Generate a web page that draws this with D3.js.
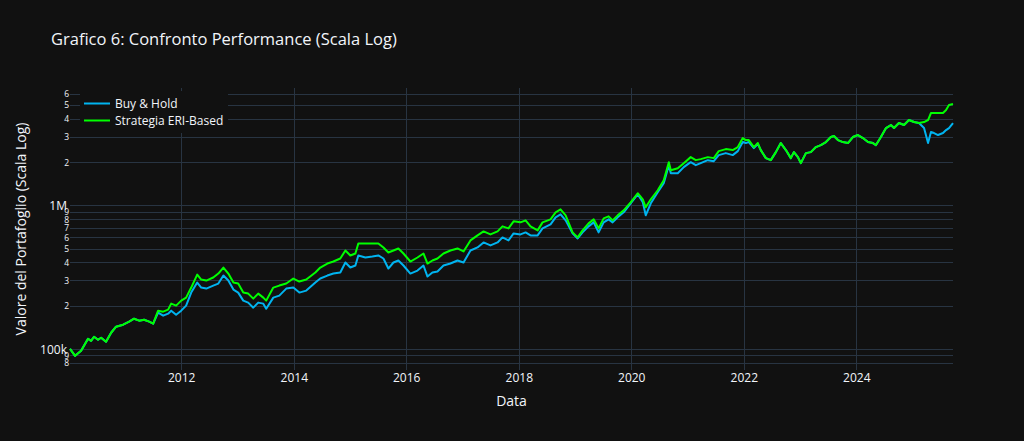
<!DOCTYPE html>
<html>
<head>
<meta charset="utf-8">
<script src="https://cdn.jsdelivr.net/npm/d3@7"></script>
<style>
  body { margin: 0; background: #111111; }
  svg { display: block; font-family: "Open Sans", verdana, arial, sans-serif; }
</style>
</head>
<body>
<div id="chart"></div>
<script>
// values (portfolio value, log scale)
var dates = [
  "2010-01-09","2010-02-11","2010-03-22","2010-05-06","2010-05-26","2010-06-14","2010-07-10","2010-07-30","2010-08-31","2010-10-03",
  "2010-11-04","2010-12-20","2011-01-28","2011-03-01","2011-04-03","2011-05-05","2011-06-07","2011-07-03","2011-08-04","2011-09-06",
  "2011-10-08","2011-10-28","2011-11-29","2012-01-01","2012-02-02","2012-03-06","2012-04-14","2012-05-10","2012-06-12","2012-07-27",
  "2012-08-29","2012-10-01","2012-11-02","2012-12-05","2013-01-05","2013-02-07","2013-03-11","2013-04-13","2013-05-15","2013-06-17",
  "2013-07-06","2013-08-21","2013-09-29","2013-11-13","2013-12-29","2014-02-06","2014-03-23","2014-05-21","2014-06-22","2014-08-07",
  "2014-09-15","2014-10-30","2014-12-02","2015-01-03","2015-02-05","2015-02-24","2015-04-11","2015-05-26","2015-07-04","2015-08-06",
  "2015-09-07","2015-10-10","2015-11-11","2015-12-14","2016-01-28","2016-03-14","2016-04-22","2016-05-18","2016-06-19","2016-07-22",
  "2016-08-30","2016-10-14","2016-11-29","2017-01-07","2017-02-21","2017-04-08","2017-05-17","2017-07-01","2017-08-16","2017-09-17",
  "2017-10-26","2017-11-28","2018-01-12","2018-02-14","2018-03-18","2018-05-03","2018-06-04","2018-07-26","2018-08-28","2018-09-29",
  "2018-11-01","2018-12-16","2019-01-18","2019-02-19","2019-03-30","2019-05-02","2019-06-03","2019-07-06","2019-08-07","2019-09-02",
  "2019-10-05","2019-11-13","2019-12-28","2020-02-12","2020-03-16","2020-04-04","2020-05-07","2020-06-21","2020-07-30","2020-09-01",
  "2020-09-14","2020-10-29","2020-12-07","2021-01-21","2021-02-23","2021-03-27","2021-05-12","2021-06-20","2021-07-22","2021-09-06",
  "2021-10-21","2021-11-23","2021-12-25","2022-01-14","2022-02-02","2022-03-07","2022-04-02","2022-04-21","2022-05-24","2022-06-25",
  "2022-07-28","2022-08-29","2022-10-01","2022-11-02","2022-11-22","2022-12-18","2023-01-06","2023-02-08","2023-03-12","2023-04-14",
  "2023-05-16","2023-06-18","2023-07-20","2023-08-09","2023-09-04","2023-10-06","2023-11-08","2023-12-10","2024-01-12","2024-02-13",
  "2024-03-17","2024-04-18","2024-05-08","2024-06-09","2024-07-12","2024-08-13","2024-09-02","2024-10-04","2024-11-06","2024-12-08",
  "2025-01-10","2025-02-11","2025-03-16","2025-04-11","2025-04-30","2025-05-20","2025-06-15","2025-07-17","2025-08-06","2025-08-25",
  "2025-09-20"
];

var buyHold = [
  100000,89300,96800,117500,113700,121300,115600,119400,111900,129400,
  142500,147200,154500,162100,157000,159500,154500,149600,178600,170100,
  175700,184400,172900,184400,199900,246400,289500,267100,262800,275800,
  284900,323900,299000,258600,246400,216600,209800,193500,209800,206400,
  190400,227400,234800,262800,267100,246400,254500,289500,308800,323900,
  334500,339900,399300,368400,380500,447000,432800,439800,447000,425900,
  362500,399300,412400,380500,334500,351000,380500,318800,339900,345400,
  380500,392900,412400,399300,484500,508500,551100,525100,551100,597400,
  569200,637100,626900,647400,616900,616900,690500,736500,824300,865000,
  785500,637100,587800,647400,713100,760600,647400,760600,798200,760600,
  824300,893400,1032700,1193700,1049500,851200,1032700,1232800,1425000,1904400,
  1674100,1674100,1844000,1998600,1904400,1966700,2064100,2031100,2237200,2310500,
  2237200,2386100,2758400,2714300,2758400,2504300,2670900,2424900,2131800,2064100,
  2348000,2714300,2424900,2131800,2348000,2166300,1966700,2310500,2348000,2545000,
  2628300,2758400,2989700,3038300,2848800,2758400,2714300,2989700,3087600,2942000,
  2758400,2714300,2628300,2989700,3454100,3625200,3454100,3744000,3625200,3929300,
  3804700,3744000,3454100,2714300,3238700,3187800,3087600,3187800,3344700,3454100,
  3744000
];

var eriStrategy = [
  100000,89300,96800,117500,113700,121300,115600,119400,111900,129400,
  142500,147200,154500,162100,157000,159500,154500,149600,184400,181500,
  187400,206400,199900,216600,227400,267100,329100,303800,299000,313800,
  334500,368400,334500,289500,284900,246400,242500,223700,242500,227400,
  216600,267100,275800,284900,308800,294200,303800,339900,368400,392900,
  405800,425900,484500,447000,461600,542300,542300,542300,542300,508500,
  469100,484500,500400,461600,405800,432800,461600,392900,412400,425900,
  461600,484500,500400,476700,569200,616900,657900,626900,657900,713100,
  690500,772900,760600,785500,713100,668600,760600,798200,893400,937600,
  851200,647400,597400,668600,748400,798200,690500,811100,837700,785500,
  851200,922600,1049500,1213100,1101400,968300,1101400,1273200,1495600,1998600,
  1757000,1814500,1966700,2166300,2064100,2097600,2166300,2131800,2386100,2464300,
  2424900,2545000,2942000,2848800,2848800,2545000,2714300,2424900,2131800,2064100,
  2348000,2714300,2424900,2131800,2348000,2166300,1966700,2310500,2348000,2545000,
  2628300,2758400,2989700,3038300,2848800,2758400,2714300,2989700,3087600,2942000,
  2758400,2714300,2628300,2989700,3454100,3625200,3454100,3744000,3625200,3929300,
  3804700,3744000,3804700,3929300,4398300,4398300,4398300,4398300,4616100,5003500,
  5084700
];

var seriesNames = ["Buy & Hold", "Strategia ERI-Based"];
var seriesColors = ["#00b4f0", "#00ff00"];
var yearTicks = ["2012","2014","2016","2018","2020","2022","2024"];
var yDecadeTicks = [100000, 1000000];
var yDigitTicks = [80000, 90000, 200000, 300000, 400000, 500000, 600000, 700000, 800000, 900000,
                   2000000, 3000000, 4000000, 5000000, 6000000];
var yRange = [71170, 6568000];

var cfg = {
  w: 1024,
  h: 441,
  left: 70,
  right: 71,
  top: 88,
  bottom: 71,
  grid: "#283442",
  text: "#f2f5fa"
};

var pw = cfg.w - cfg.left - cfg.right;
var ph = cfg.h - cfg.top - cfg.bottom;

var parseDate = d3.timeParse("%Y-%m-%d");
var parsed = dates.map(parseDate);

var svg = d3.select("#chart")
    .append("svg")
    .attr("width", cfg.w)
    .attr("height", cfg.h)
    .style("background", "#111111");

var g = svg.append("g")
    .attr("transform", "translate(" + cfg.left + "," + cfg.top + ")");

var x = d3.scaleTime().domain(d3.extent(parsed)).range([0, pw]);
var y = d3.scaleLog().domain(yRange).range([ph, 0]);

// grid lines
var allY = yDigitTicks.concat(yDecadeTicks);
g.append("g").attr("class", "ygrid")
  .selectAll("line")
  .data(allY)
  .enter().append("line")
    .attr("x1", 0).attr("x2", pw)
    .attr("y1", function(d) { return Math.round(y(d)) + 0.5; })
    .attr("y2", function(d) { return Math.round(y(d)) + 0.5; })
    .attr("stroke", cfg.grid).attr("stroke-width", 1);

var yearDates = yearTicks.map(function(t) { return parseDate(t + "-01-01"); });
g.append("g").attr("class", "xgrid")
  .selectAll("line")
  .data(yearDates)
  .enter().append("line")
    .attr("y1", 0).attr("y2", ph)
    .attr("x1", function(d) { return Math.round(x(d)) + 0.5; })
    .attr("x2", function(d) { return Math.round(x(d)) + 0.5; })
    .attr("stroke", cfg.grid).attr("stroke-width", 1);

// x axis
var xAxis = d3.axisBottom(x)
    .tickValues(yearDates)
    .tickSize(0)
    .tickPadding(0)
    .tickFormat(d3.timeFormat("%Y"));

var xg = g.append("g")
    .attr("transform", "translate(0," + ph + ")")
    .call(xAxis);
xg.select(".domain").remove();
xg.selectAll("text")
    .attr("y", 12)
    .attr("dy", 0)
    .style("font-size", "12px")
    .style("font-family", "\"Open Sans\", verdana, arial, sans-serif")
    .attr("fill", cfg.text);

// y axis
var yAxis = d3.axisLeft(y)
    .tickValues(allY)
    .tickSize(0)
    .tickPadding(3)
    .tickFormat(function(d) {
      if (d === 1000000) return "1M";
      if (d === 100000) return "100k";
      var lead = d / Math.pow(10, Math.floor(Math.log10(d) + 1e-9));
      return String(Math.round(lead));
    });

var yg = g.append("g").call(yAxis);
yg.select(".domain").remove();
yg.selectAll("text")
    .attr("dy", "0.35em")
    .style("font-family", "\"Open Sans\", verdana, arial, sans-serif")
    .style("font-size", function(d) { return yDecadeTicks.indexOf(d) >= 0 ? "12px" : "8.5px"; })
    .attr("x", function(d) { return yDecadeTicks.indexOf(d) >= 0 ? -3 : -1; })
    .attr("fill", cfg.text);

// lines
var line = d3.line()
    .x(function(d) { return x(d.date); })
    .y(function(d) { return y(d.value); });

[buyHold, eriStrategy].forEach(function(vals, i) {
  var pts = vals.map(function(v, j) { return { date: parsed[j], value: v }; });
  g.append("path")
    .datum(pts)
    .attr("fill", "none")
    .attr("stroke", seriesColors[i])
    .attr("stroke-width", 2)
    .attr("stroke-linejoin", "round")
    .attr("d", line);
});

// legend
var legend = g.append("g").attr("transform", "translate(10,3)");
legend.append("rect")
    .attr("width", 148).attr("height", 42)
    .attr("fill", "#111111");
seriesNames.forEach(function(name, i) {
  var row = legend.append("g").attr("transform", "translate(0," + (12.5 + i * 17) + ")");
  row.append("line")
    .attr("x1", 4).attr("x2", 30)
    .attr("stroke", seriesColors[i]).attr("stroke-width", 2);
  row.append("text")
    .attr("x", 35).attr("dy", "0.35em")
    .style("font-size", "12px")
    .attr("fill", cfg.text)
    .text(name);
});

// titles
svg.append("text")
    .attr("x", 51).attr("y", 45)
    .style("font-size", "16.5px")
    .attr("fill", cfg.text)
    .text("Grafico 6: Confronto Performance (Scala Log)");

svg.append("text")
    .attr("x", cfg.left + pw / 2).attr("y", 406)
    .attr("text-anchor", "middle")
    .style("font-size", "14px")
    .attr("fill", cfg.text)
    .text("Data");

svg.append("text")
    .attr("transform", "translate(26," + (cfg.top + ph / 2) + ") rotate(-90)")
    .attr("text-anchor", "middle")
    .style("font-size", "14px")
    .attr("fill", cfg.text)
    .text("Valore del Portafoglio (Scala Log)");
</script>
</body>
</html>
